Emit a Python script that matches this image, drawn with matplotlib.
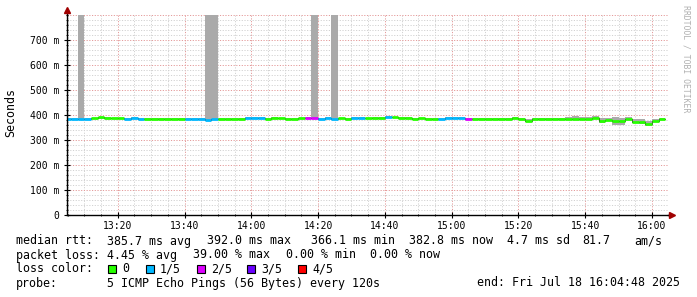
import matplotlib
matplotlib.use('Agg')
import matplotlib.pyplot as plt
from matplotlib.patches import Rectangle
from matplotlib.ticker import FixedLocator, MultipleLocator, FixedFormatter

# ---------------- data ----------------
# interval start times, minutes after 13:00 (2-minute steps, 13:04 .. 16:02)
step_start_min = list(range(4, 184, 2))
step_len_min = 2

median_ms = [385, 385, 384, 385, 387, 391, 390, 387, 387, 386,
             390, 386, 386, 385, 383, 385, 384, 385, 386, 386,
             384, 382, 384, 386, 386, 385, 386, 389, 390, 388,
             386, 389, 387, 386, 386, 387, 389, 387, 386, 389,
             386, 387, 386, 387, 388, 387, 389, 390, 392, 391,
             390, 389, 385, 387, 386, 385, 386, 387, 389, 387,
             383, 385, 386, 384, 385, 384, 386, 388, 386, 378,
             383, 385, 386, 385, 386, 384, 384, 383, 384, 390,
             375, 380, 378, 378, 386, 374, 372, 366, 378, 383]

loss_count = [1, 1, 1, 1, 0, 0, 0, 0, 0, 1,
              1, 1, 0, 0, 0, 0, 0, 0, 1, 1,
              1, 1, 1, 0, 0, 0, 0, 1, 1, 1,
              0, 0, 0, 0, 0, 0, 2, 2, 1, 1,
              1, 0, 0, 1, 1, 0, 0, 0, 1, 0,
              0, 0, 0, 0, 0, 0, 1, 1, 1, 1,
              2, 0, 0, 0, 0, 0, 0, 0, 0, 0,
              0, 0, 0, 0, 0, 0, 0, 0, 0, 0,
              0, 0, 0, 0, 0, 0, 0, 0, 0, 0]

smoke_lo_ms = [382, 382, 381, 382, 384, 386, 386, 384, 384, 383,
               385, 383, 383, 382, 380, 382, 381, 382, 383, 383,
               381, 379, 381, 383, 383, 382, 383, 385, 386, 385,
               383, 385, 384, 383, 383, 384, 385, 384, 383, 385,
               383, 384, 383, 384, 385, 384, 386, 387, 388, 388,
               387, 386, 382, 384, 383, 382, 383, 384, 386, 384,
               380, 382, 383, 381, 382, 381, 383, 385, 383, 372,
               380, 382, 383, 382, 383, 380, 380, 379, 380, 385,
               370, 375, 360, 362, 381, 368, 364, 358, 374, 380]

smoke_hi_ms = [389, 389, 950, 389, 390, 394, 393, 390, 390, 390,
               394, 390, 389, 388, 387, 389, 388, 389, 390, 390,
               388, 950, 950, 389, 389, 388, 389, 393, 394, 392,
               389, 392, 390, 389, 389, 390, 393, 950, 390, 393,
               950, 390, 389, 391, 392, 390, 392, 393, 396, 394,
               393, 392, 388, 390, 389, 388, 390, 391, 393, 391,
               388, 388, 389, 387, 388, 387, 389, 391, 389, 386,
               387, 388, 389, 388, 389, 392, 395, 393, 392, 396,
               388, 390, 392, 390, 392, 385, 383, 375, 384, 387]

loss_labels = ['0', '1/5', '2/5', '3/5', '4/5']
loss_colors = ['#26ff00', '#00b8ff', '#dd00ff', '#6a00ff', '#ff0000']

x_tick_min = [20, 40, 60, 80, 100, 120, 140, 160, 180]
x_tick_labels = ['13:20', '13:40', '14:00', '14:20', '14:40', '15:00', '15:20', '15:40', '16:00']
y_tick_s = [0, 0.1, 0.2, 0.3, 0.4, 0.5, 0.6, 0.7]
y_tick_labels = ['0', '100 m', '200 m', '300 m', '400 m', '500 m', '600 m', '700 m']

stats_rtt = ['385.7 ms avg', '392.0 ms max', '366.1 ms min', '382.8 ms now', '4.7 ms sd', '81.7', 'am/s']
stats_loss = ['4.45 % avg', '39.00 % max', '0.00 % min', '0.00 % now']
probe_text = '5 ICMP Echo Pings (56 Bytes) every 120s'
end_text = 'end: Fri Jul 18 16:04:48 2025'

# ---------------- figure ----------------
W, H = 697, 297
fig = plt.figure(figsize=(W / 100, H / 100), dpi=100, facecolor='white')
MONO = 'DejaVu Sans Mono'
FS = 8.4
AXFS = 7.0

def fx(px):
    return px / W

def fy(py):
    return 1 - py / H

ax = fig.add_axes([fx(67), fy(215), (668 - 67) / W, (215 - 15) / H])
ax.set_facecolor('white')
XMIN, XMAX = 4.8, 184.8
YMAX = 0.8
ax.set_xlim(XMIN, XMAX)
ax.set_ylim(0, YMAX)

# grid (drawn manually)
minor_c = '#d2d2d2'
major_c = '#e49a9a'
dot = (0, (1.2, 1.6))
for m in range(5, 185, 5):
    if XMIN < m < XMAX:
        c = major_c if m % 20 == 0 else minor_c
        ax.axvline(m, color=c, lw=0.7, ls=dot, zorder=0)
for i in range(1, 41):
    yv = i * 0.02
    c = major_c if i % 5 == 0 else minor_c
    ax.axhline(yv, color=c, lw=0.7, ls=dot, zorder=0)

# smoke
edges = step_start_min + [step_start_min[-1] + step_len_min]
lo = [v / 1000 for v in smoke_lo_ms]
hi = [v / 1000 for v in smoke_hi_ms]
ax.fill_between(edges, lo + [lo[-1]], hi + [hi[-1]], step='post',
                color='#aaaaaa', lw=0, zorder=2)

# median thin dark step line
med = [v / 1000 for v in median_ms]
ax.step(edges, med + [med[-1]], where='post', color='#202020', lw=0.6, zorder=3)

# median coloured by loss
for t, m, l in zip(step_start_min, med, loss_count):
    ax.hlines(m, t, t + step_len_min, color=loss_colors[l], lw=2.0,
              capstyle='butt', zorder=4)

# axes styling
for s in ['top', 'right']:
    ax.spines[s].set_visible(False)
for s in ['left', 'bottom']:
    ax.spines[s].set_color('black')
    ax.spines[s].set_linewidth(1.0)
    ax.spines[s].set_zorder(6)

ax.xaxis.set_major_locator(FixedLocator(x_tick_min))
ax.xaxis.set_major_formatter(FixedFormatter(x_tick_labels))
ax.xaxis.set_minor_locator(MultipleLocator(5))
ax.yaxis.set_major_locator(FixedLocator(y_tick_s))
ax.yaxis.set_major_formatter(FixedFormatter(y_tick_labels))
ax.yaxis.set_minor_locator(MultipleLocator(0.02))
ax.tick_params(axis='both', which='major', direction='inout', length=4, width=0.8,
               labelsize=AXFS, pad=3.5)
ax.tick_params(axis='both', which='minor', direction='inout', length=2, width=0.6)
ax.tick_params(axis='x', which='major', pad=2)
for lab in ax.get_xticklabels() + ax.get_yticklabels():
    lab.set_family(MONO)

# axis extensions and arrows
arrow_c = '#a00000'
ax.plot([XMIN, XMIN], [YMAX, YMAX * 1.015], color='black', lw=1.0, clip_on=False, zorder=6)
ax.plot([XMIN], [YMAX * 1.025], marker='^', color=arrow_c, ms=4.5, clip_on=False, zorder=7)
ax.plot([XMAX, XMAX + 0.3], [0, 0], color='black', lw=1.0, clip_on=False, zorder=6)
ax.plot([XMAX + 1.3], [0], marker='>', color=arrow_c, ms=4.5, clip_on=False, zorder=7)

# y label
fig.text(fx(11), fy(113), 'Seconds', rotation=90, family=MONO, size=FS,
         ha='center', va='center')
# watermark
fig.text(fx(686), fy(59), 'RRDTOOL / TOBI OETIKER', rotation=270, family=MONO,
         size=5.9, color='#b0b0b0', ha='center', va='center')

# legend / stats text
y1, y2, y3, y4 = 241, 255, 268.5, 283
fig.text(fx(16), fy(y1), 'median rtt:', family=MONO, size=FS, va='center')
for xp, s in zip([107, 207, 311, 409, 507, 582, 634], stats_rtt):
    fig.text(fx(xp), fy(y1), s, family=MONO, size=FS, va='center')
fig.text(fx(16), fy(y2), 'packet loss:', family=MONO, size=FS, va='center')
for xp, s in zip([107, 193, 286, 370], stats_loss):
    fig.text(fx(xp), fy(y2), s, family=MONO, size=FS, va='center')
fig.text(fx(16), fy(y3), 'loss color:', family=MONO, size=FS, va='center')
for bx, lbl, col in zip([108, 146, 197, 247, 298], loss_labels, loss_colors):
    fig.patches.append(Rectangle((fx(bx), fy(y3 + 4)), 8 / W, 8 / H,
                                 transform=fig.transFigure, facecolor=col,
                                 edgecolor='black', lw=0.8))
    fig.text(fx(bx + 14), fy(y3), lbl, family=MONO, size=FS, va='center')
fig.text(fx(16), fy(y4), 'probe:', family=MONO, size=FS, va='center')
fig.text(fx(107), fy(y4), probe_text, family=MONO, size=FS, va='center')
fig.text(fx(680), fy(y4), end_text, family=MONO, size=FS, va='center', ha='right')

fig.savefig('out.png', dpi=100, facecolor='white')
